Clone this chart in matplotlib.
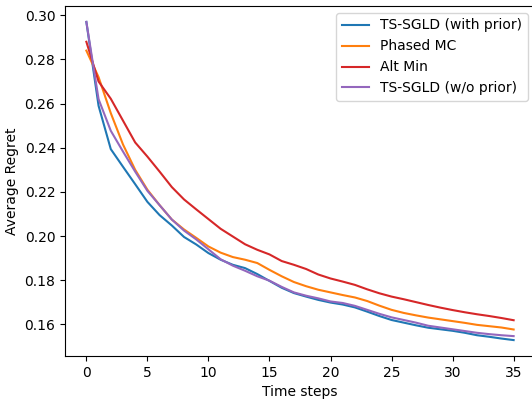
import numpy as np
import matplotlib
matplotlib.use("Agg")
import matplotlib.pyplot as plt

# ----- Data -----
steps = np.arange(36)

ts_sgld_prior = [0.297, 0.259, 0.2394, 0.2314, 0.2235, 0.2155, 0.2095, 0.2048, 0.1996, 0.1962,
                 0.1923, 0.1893, 0.1870, 0.1855, 0.1828, 0.1797, 0.1766, 0.1742, 0.1726, 0.1711,
                 0.1699, 0.1690, 0.1677, 0.1658, 0.1638, 0.1620, 0.1608, 0.1596, 0.1585, 0.1578,
                 0.1571, 0.1562, 0.1551, 0.1544, 0.1536, 0.1529]

phased_mc = [0.284, 0.272, 0.2557, 0.2415, 0.2300, 0.2210, 0.2140, 0.2075, 0.2030, 0.1992,
             0.1953, 0.1925, 0.1905, 0.1893, 0.1878, 0.1847, 0.1818, 0.1792, 0.1773, 0.1757,
             0.1745, 0.1733, 0.1722, 0.1706, 0.1685, 0.1666, 0.1652, 0.1641, 0.1631, 0.1623,
             0.1615, 0.1607, 0.1598, 0.1592, 0.1586, 0.1577]

alt_min = [0.288, 0.270, 0.2622, 0.2523, 0.2424, 0.2360, 0.2292, 0.2222, 0.2166, 0.2121,
           0.2077, 0.2033, 0.1998, 0.1963, 0.1938, 0.1917, 0.1887, 0.1870, 0.1851, 0.1826,
           0.1808, 0.1794, 0.1779, 0.1759, 0.1741, 0.1726, 0.1714, 0.1701, 0.1688, 0.1676,
           0.1665, 0.1655, 0.1646, 0.1638, 0.1629, 0.1619]

ts_sgld_noprior = [0.297, 0.262, 0.2477, 0.2383, 0.2292, 0.2205, 0.2140, 0.2075, 0.2025, 0.1985,
                   0.1940, 0.1895, 0.1866, 0.1843, 0.1818, 0.1798, 0.1770, 0.1745, 0.1730, 0.1718,
                   0.1704, 0.1697, 0.1684, 0.1666, 0.1648, 0.1632, 0.1620, 0.1608, 0.1594, 0.1586,
                   0.1578, 0.1570, 0.1562, 0.1556, 0.1551, 0.1547]

# ----- Plot -----
fig = plt.figure(figsize=(5.32, 4.0), dpi=100)
ax = fig.add_axes([65 / 532, 44 / 400, 470 / 532, 350 / 400])

ax.plot(steps, ts_sgld_prior, color="C0", label="TS-SGLD (with prior)")
ax.plot(steps, phased_mc, color="C1", label="Phased MC")
ax.plot(steps, alt_min, color="C3", label="Alt Min")
ax.plot(steps, ts_sgld_noprior, color="C4", label="TS-SGLD (w/o prior)")

ax.set_xlabel("Time steps")
ax.set_ylabel("Average Regret")
ax.legend(loc="upper right")

fig.savefig("out.png", dpi=100)
